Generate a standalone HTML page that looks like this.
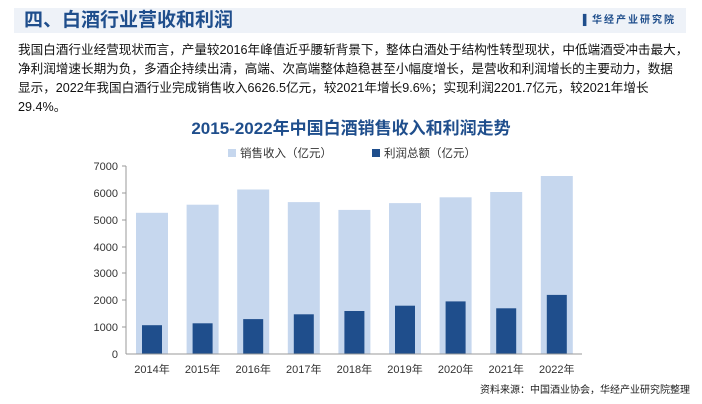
<!DOCTYPE html><html><head><meta charset="utf-8"><style>
body{margin:0;width:702px;height:404px;background:#fff;font-family:"Liberation Sans","Noto Sans CJK SC",sans-serif;position:relative;overflow:hidden}
.hd{position:absolute;left:14px;top:8px;width:672px;height:25px;background:#eef2f8}
.hd b{position:absolute;left:10px;top:0;font-size:19px;color:#1f4e8c;line-height:25px}
.hd span{position:absolute;right:10px;top:0;font-size:10px;color:#1f4e8c;line-height:25px;font-weight:bold;letter-spacing:2px}
.p{position:absolute;left:18px;top:41px;width:700px;white-space:nowrap;font-size:12.6px;line-height:19px;color:#111}
</style></head><body>
<div class="hd"><b>四、白酒行业营收和利润</b><span>▌华经产业研究院</span></div>
<div class="p">我国白酒行业经营现状而言，产量较2016年峰值近乎腰斩背景下，整体白酒处于结构性转型现状，中低端酒受冲击最大，<br>净利润增速长期为负，多酒企持续出清，高端、次高端整体趋稳甚至小幅度增长，是营收和利润增长的主要动力，数据<br>显示，2022年我国白酒行业完成销售收入6626.5亿元，较2021年增长9.6%；实现利润2201.7亿元，较2021年增长<br>29.4%。</div>
<svg width="702" height="404" style="position:absolute;left:0;top:0" font-family="Liberation Sans,Noto Sans CJK SC,sans-serif">
<text x="351" y="134" text-anchor="middle" font-size="17" font-weight="bold" fill="#1f4e8c">2015-2022年中国白酒销售收入和利润走势</text>
<rect x="228" y="149" width="8" height="8" fill="#c6d7ee"/><text x="240" y="157" font-size="11.5" fill="#333">销售收入（亿元）</text>
<rect x="372" y="149" width="8" height="8" fill="#1f4e8c"/><text x="384" y="157" font-size="11.5" fill="#333">利润总额（亿元）</text>
<g font-size="11" fill="#333" text-anchor="end">
<text x="118" y="170">7000</text><text x="118" y="197">6000</text><text x="118" y="224">5000</text><text x="118" y="251">4000</text><text x="118" y="277">3000</text><text x="118" y="304">2000</text><text x="118" y="331">1000</text><text x="118" y="358">0</text></g>
<g fill="#c6d7ee">
<rect x="136" y="212.8" width="32" height="141.2"/>
<rect x="186.6" y="204.7" width="32" height="149.3"/>
<rect x="237.2" y="189.5" width="32" height="164.5"/>
<rect x="287.8" y="202.1" width="32" height="151.9"/>
<rect x="338.4" y="209.9" width="32" height="144.1"/>
<rect x="389" y="203.1" width="32" height="150.9"/>
<rect x="439.6" y="197.3" width="32" height="156.7"/>
<rect x="490.2" y="192" width="32" height="162"/>
<rect x="540.8" y="176" width="32" height="178"/>
</g>
<g fill="#1f4e8c">
<rect x="142" y="325.2" width="20" height="28.8"/>
<rect x="192.6" y="323.3" width="20" height="30.7"/>
<rect x="243.2" y="319.1" width="20" height="34.9"/>
<rect x="293.8" y="314.3" width="20" height="39.7"/>
<rect x="344.4" y="311" width="20" height="43"/>
<rect x="395" y="305.7" width="20" height="48.3"/>
<rect x="445.6" y="301.4" width="20" height="52.6"/>
<rect x="496.2" y="308.3" width="20" height="45.7"/>
<rect x="546.8" y="294.9" width="20" height="59.1"/>
</g>
<line x1="126" y1="166" x2="126" y2="354" stroke="#999"/>
<line x1="126" y1="354" x2="582" y2="354" stroke="#999"/>
<g stroke="#999"><line x1="122" y1="166" x2="126" y2="166"/><line x1="122" y1="193" x2="126" y2="193"/><line x1="122" y1="220" x2="126" y2="220"/><line x1="122" y1="247" x2="126" y2="247"/><line x1="122" y1="273" x2="126" y2="273"/><line x1="122" y1="300" x2="126" y2="300"/><line x1="122" y1="327" x2="126" y2="327"/></g>
<g font-size="11" fill="#333" text-anchor="middle">
<text x="152" y="373">2014年</text><text x="202.6" y="373">2015年</text><text x="253.2" y="373">2016年</text><text x="303.8" y="373">2017年</text><text x="354.4" y="373">2018年</text><text x="405" y="373">2019年</text><text x="455.6" y="373">2020年</text><text x="506.2" y="373">2021年</text><text x="556.8" y="373">2022年</text></g>
<text x="690" y="393" text-anchor="end" font-size="10" fill="#222">资料来源：中国酒业协会，华经产业研究院整理</text>
</svg>
</body></html>
